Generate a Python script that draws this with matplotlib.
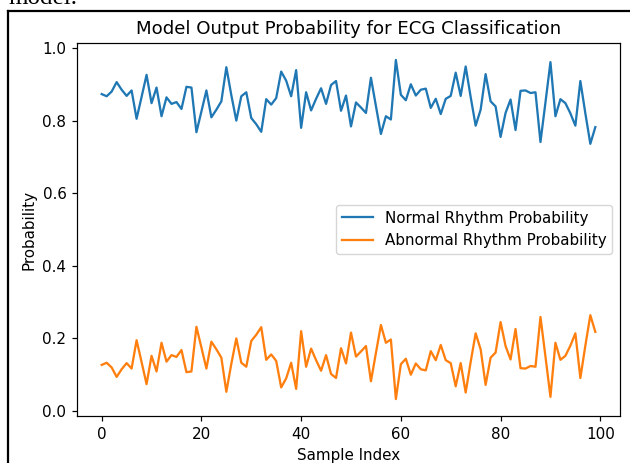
import matplotlib
matplotlib.use("Agg")
import matplotlib.pyplot as plt
from matplotlib.lines import Line2D

# values
sample_index = list(range(100))
normal_prob = [0.873, 0.867, 0.880, 0.906, 0.885, 0.868, 0.883, 0.805, 0.865, 0.926,
               0.848, 0.891, 0.812, 0.864, 0.846, 0.851, 0.832, 0.893, 0.891, 0.768,
               0.825, 0.883, 0.809, 0.830, 0.853, 0.947, 0.870, 0.800, 0.867, 0.878,
               0.807, 0.790, 0.769, 0.859, 0.844, 0.862, 0.935, 0.910, 0.867, 0.939,
               0.780, 0.878, 0.828, 0.860, 0.889, 0.846, 0.898, 0.909, 0.827, 0.869,
               0.784, 0.850, 0.836, 0.821, 0.918, 0.840, 0.763, 0.812, 0.803, 0.967,
               0.871, 0.856, 0.900, 0.869, 0.885, 0.888, 0.835, 0.860, 0.818, 0.860,
               0.868, 0.932, 0.868, 0.949, 0.865, 0.786, 0.830, 0.928, 0.853, 0.839,
               0.755, 0.821, 0.858, 0.774, 0.882, 0.883, 0.876, 0.878, 0.741, 0.850,
               0.961, 0.812, 0.859, 0.848, 0.820, 0.786, 0.909, 0.820, 0.736, 0.782]
abnormal_prob = [0.127, 0.133, 0.120, 0.094, 0.115, 0.132, 0.117, 0.195, 0.135, 0.074,
                 0.152, 0.109, 0.188, 0.136, 0.154, 0.149, 0.168, 0.107, 0.109, 0.232,
                 0.175, 0.117, 0.191, 0.170, 0.147, 0.053, 0.130, 0.200, 0.133, 0.122,
                 0.193, 0.210, 0.231, 0.141, 0.156, 0.138, 0.065, 0.090, 0.133, 0.061,
                 0.220, 0.122, 0.172, 0.140, 0.111, 0.154, 0.102, 0.091, 0.173, 0.131,
                 0.216, 0.150, 0.164, 0.179, 0.082, 0.160, 0.237, 0.188, 0.197, 0.033,
                 0.129, 0.144, 0.100, 0.131, 0.115, 0.112, 0.165, 0.140, 0.182, 0.140,
                 0.132, 0.068, 0.132, 0.051, 0.135, 0.214, 0.170, 0.072, 0.147, 0.161,
                 0.245, 0.179, 0.142, 0.226, 0.118, 0.117, 0.124, 0.122, 0.259, 0.150,
                 0.039, 0.188, 0.141, 0.152, 0.180, 0.214, 0.091, 0.180, 0.264, 0.218]

# the reference is a default matplotlib figure shown about 1.09x larger
s = 1.09
plt.rcParams["lines.linewidth"] = 1.5 * s
plt.rcParams["axes.linewidth"] = 0.8 * s
plt.rcParams["xtick.major.size"] = 3.5 * s
plt.rcParams["ytick.major.size"] = 3.5 * s
plt.rcParams["xtick.major.width"] = 0.8 * s
plt.rcParams["ytick.major.width"] = 0.8 * s
plt.rcParams["xtick.major.pad"] = 3.5 * s
plt.rcParams["ytick.major.pad"] = 3.5 * s

fig = plt.figure(figsize=(6.3, 4.63), dpi=100)
ax = fig.add_axes([77/630, 47/463, 543/630, 373/463])

ax.plot(sample_index, normal_prob, label="Normal Rhythm Probability")
ax.plot(sample_index, abnormal_prob, label="Abnormal Rhythm Probability")
ax.set_title("Model Output Probability for ECG Classification", fontsize=12 * s, pad=6 * s)
ax.set_xlabel("Sample Index", fontsize=10 * s, labelpad=4 * s)
ax.set_ylabel("Probability", fontsize=10 * s, labelpad=4 * s)
ax.tick_params(labelsize=10 * s)
ax.legend(loc="center right", fontsize=10 * s)

# screenshot frame and the caption cut off at the top
fig.add_artist(Line2D([8/630, 8/630], [0, 1 - 11/463], color="black", lw=1.6))
fig.add_artist(Line2D([8/630, 1], [1 - 11/463, 1 - 11/463], color="black", lw=1.6))
fig.text(8/630, 1 - 4/463, "model.", family="Liberation Serif", fontsize=18, va="baseline")

fig.savefig("out.png", dpi=100)
